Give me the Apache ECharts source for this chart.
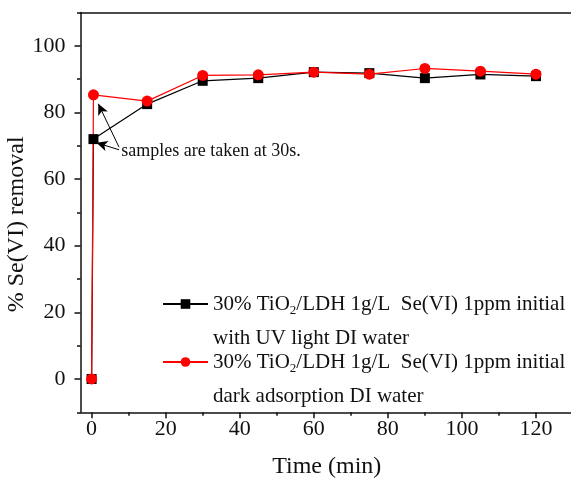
<!DOCTYPE html>
<html><head><meta charset="utf-8">
<script src="https://cdn.jsdelivr.net/npm/echarts@6/dist/echarts.min.js"></script>
<style>html,body{margin:0;padding:0;background:#fff}#c{width:571px;height:478px}</style>
</head><body><div id="c"></div>
<script>
const time = [0, 0.5, 15, 30, 45, 60, 75, 90, 105, 120];
const uvRemoval = [0, 72.0, 82.5, 89.5, 90.3, 92.1, 91.8, 90.3, 91.4, 90.9];
const darkRemoval = [0, 85.3, 83.4, 91.1, 91.3, 92.1, 91.5, 93.2, 92.4, 91.5];
const xTicks = [0, 20, 40, 60, 80, 100, 120];
const xMinorTicks = [10, 30, 50, 70, 90, 110, 130];
const yTicks = [0, 20, 40, 60, 80, 100];
const yMinorTicks = [-10, 10, 30, 50, 70, 90, 110];
const legendLines = {
  uv: ['30% TiO{sub|2}/LDH 1g/L  Se(VI) 1ppm initial', 'with UV light DI water'],
  dark: ['30% TiO{sub|2}/LDH 1g/L  Se(VI) 1ppm initial', 'dark adsorption DI water']
};
const annotationText = 'samples are taken at 30s.';
const arrows = [
  [[7.4, 68.8], [1.3, 70.9]],
  [[7.4, 69.6], [1.8, 82.6]]
];
const annotationAt = [8.0, 68.3];

const FONT = 'Liberation Serif';
const chart = echarts.init(document.getElementById('c'), null, {renderer: 'canvas'});
const pairs = (ys) => time.map((t, i) => [t, ys[i]]);
const legendCommon = {
  orient: 'vertical', left: 162, padding: 0, itemWidth: 45, itemHeight: 12, itemGap: 0,
  selectedMode: false,
  textStyle: {fontFamily: FONT, fontSize: 21, color: '#111', lineHeight: 34,
    rich: {sub: {fontFamily: FONT, fontSize: 13, color: '#111', padding: [14, 0, 0, 0], lineHeight: 34}}},
  formatter: (n) => '\n' + legendLines[n].join('\n')
};
const line = {color: '#111', width: 1.5};
chart.setOption({
  animation: false,
  backgroundColor: '#fff',
  grid: {left: 80.5, top: 12.5, right: -2, bottom: 65.7, containLabel: false, outerBoundsMode: 'none'},
  legend: [
    Object.assign({}, legendCommon, {data: ['uv'], top: 253}),
    Object.assign({}, legendCommon, {data: ['dark'], top: 311})
  ],
  xAxis: [
    {type: 'value', min: -3, max: 130, position: 'bottom',
      name: 'Time (min)', nameLocation: 'middle', nameGap: 42,
      nameTextStyle: {fontFamily: FONT, fontSize: 24, color: '#111'},
      axisLine: {show: true, onZero: false, lineStyle: line},
      axisTick: {show: true, customValues: xTicks, length: 6, inside: false, lineStyle: line},
      axisLabel: {customValues: xTicks, fontFamily: FONT, fontSize: 22, color: '#111', margin: 6},
      splitLine: {show: false}},
    {type: 'value', min: -3, max: 130, position: 'bottom',
      axisLine: {show: false, onZero: false},
      axisTick: {show: true, customValues: xMinorTicks, length: 3.5, lineStyle: line},
      axisLabel: {show: false}, splitLine: {show: false}},
    {type: 'value', min: -3, max: 130, position: 'top',
      axisLine: {show: true, onZero: false, lineStyle: line},
      axisTick: {show: false}, axisLabel: {show: false}, splitLine: {show: false}}
  ],
  yAxis: [
    {type: 'value', min: -10, max: 110, position: 'left',
      name: '% Se(VI) removal', nameLocation: 'middle', nameGap: 52, nameMoveOverlap: false,
      nameTextStyle: {fontFamily: FONT, fontSize: 24, color: '#111', padding: [0, 24, 0, 0]},
      axisLine: {show: true, onZero: false, lineStyle: line},
      axisTick: {show: true, customValues: yTicks, length: 6, lineStyle: line},
      axisLabel: {customValues: yTicks, fontFamily: FONT, fontSize: 22, color: '#111', margin: 15},
      splitLine: {show: false}},
    {type: 'value', min: -10, max: 110, position: 'left',
      axisLine: {show: false, onZero: false},
      axisTick: {show: true, customValues: yMinorTicks, length: 3.5, lineStyle: line},
      axisLabel: {show: false}, splitLine: {show: false}}
  ],
  series: [
    {name: 'uv', type: 'line', data: pairs(uvRemoval), xAxisIndex: 0, yAxisIndex: 0,
      symbol: 'rect', symbolSize: 10, color: '#000',
      lineStyle: {color: '#000', width: 1.2}, itemStyle: {color: '#000'},
      markLine: {silent: true, symbol: ['none', 'arrow'], symbolSize: [8, 11],
        lineStyle: {color: '#000', width: 1, type: 'solid'}, label: {show: false},
        data: arrows.map(a => [{coord: a[0]}, {coord: a[1]}])},
      markPoint: {silent: true, symbol: 'circle', symbolSize: 0,
        label: {show: true, position: 'right', distance: 0, formatter: annotationText,
          fontFamily: FONT, fontSize: 18, color: '#111'},
        data: [{coord: annotationAt}]}
    },
    {name: 'dark', type: 'line', data: pairs(darkRemoval), xAxisIndex: 0, yAxisIndex: 0,
      symbol: 'circle', symbolSize: 11, color: '#ff0000',
      lineStyle: {color: '#ff0000', width: 1.2}, itemStyle: {color: '#ff0000'}}
  ]
});
</script></body></html>
